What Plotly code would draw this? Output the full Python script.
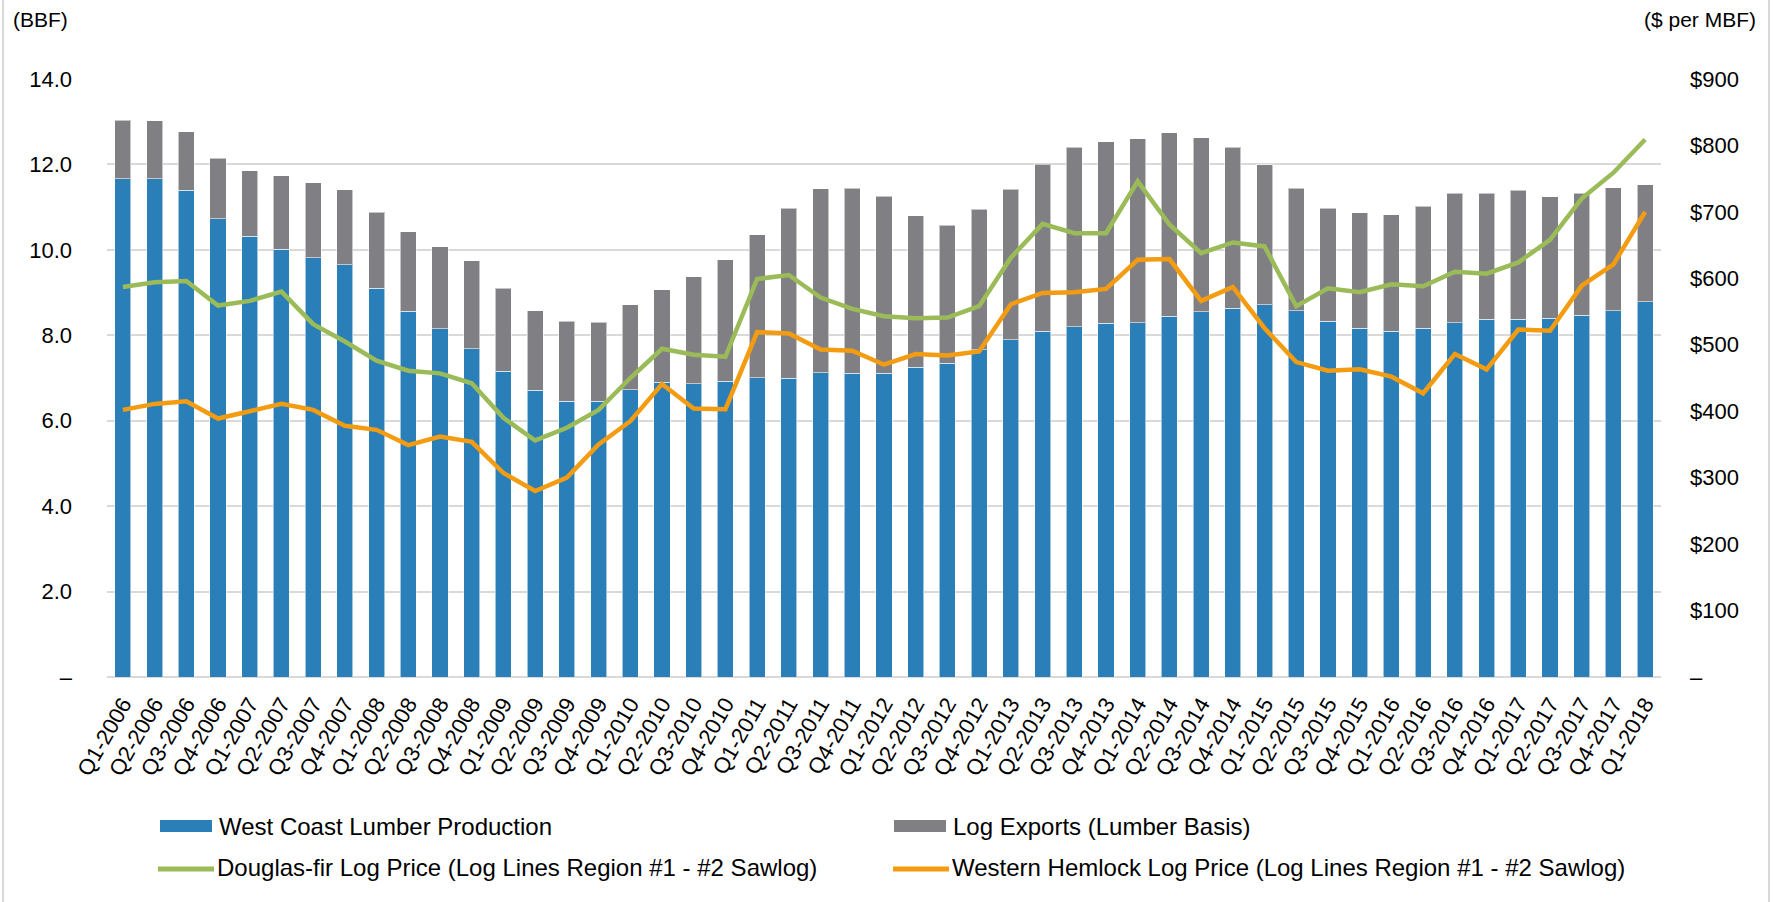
import plotly.graph_objects as go

# Quarterly categories, Q1-2006 through Q1-2018
quarters = [f"Q{q}-{y}" for y in range(2006, 2019) for q in range(1, 5)][:49]

# West Coast lumber production (BBF)
production = [11.67, 11.67, 11.39, 10.73, 10.32, 10.01, 9.82, 9.65, 9.10, 8.56,
              8.15, 7.69, 7.16, 6.71, 6.46, 6.46, 6.73, 6.90, 6.87, 6.92,
              7.01, 6.99, 7.12, 7.11, 7.11, 7.25, 7.34, 7.66, 7.90, 8.09,
              8.20, 8.28, 8.29, 8.44, 8.55, 8.63, 8.71, 8.57, 8.33, 8.17,
              8.09, 8.17, 8.29, 8.37, 8.37, 8.40, 8.47, 8.57, 8.79]

# Log exports, lumber basis (BBF)
exports = [1.36, 1.35, 1.38, 1.41, 1.53, 1.72, 1.75, 1.76, 1.78, 1.86,
           1.92, 2.06, 1.94, 1.86, 1.87, 1.84, 1.98, 2.17, 2.50, 2.85,
           3.34, 3.98, 4.31, 4.33, 4.14, 3.55, 3.24, 3.29, 3.52, 3.91,
           4.20, 4.25, 4.31, 4.30, 4.07, 3.77, 3.28, 2.87, 2.64, 2.70,
           2.73, 2.85, 3.03, 2.95, 3.02, 2.84, 2.85, 2.88, 2.73]

# Log prices ($ per MBF)
douglas_fir = [587, 594, 596, 559, 566, 580, 531, 505, 476, 461,
               457, 442, 390, 356, 375, 402, 450, 494, 485, 482,
               599, 605, 571, 554, 543, 540, 541, 558, 631, 682,
               668, 668, 746, 681, 638, 654, 648, 558, 585, 579,
               591, 588, 610, 607, 624, 658, 720, 759, 809]

hemlock = [402, 411, 415, 389, 400, 411, 402, 378, 372, 349,
           362, 354, 307, 280, 300, 350, 385, 441, 404, 403,
           519, 517, 493, 491, 470, 486, 484, 490, 561, 578,
           579, 584, 628, 629, 566, 587, 525, 474, 461, 463,
           452, 427, 486, 463, 523, 521, 589, 621, 700]

names = ["West Coast Lumber Production",
         "Log Exports (Lumber Basis)",
         "Douglas-fir Log Price (Log Lines Region #1 - #2 Sawlog)",
         "Western Hemlock Log Price (Log Lines Region #1 - #2 Sawlog)"]

left_ticks = [0, 2, 4, 6, 8, 10, 12, 14]
left_text = ["–", "2.0", "4.0", "6.0", "8.0", "10.0", "12.0", "14.0"]
right_ticks = [0, 100, 200, 300, 400, 500, 600, 700, 800, 900]
right_text = ["–", "$100", "$200", "$300", "$400", "$500", "$600", "$700", "$800", "$900"]

BLUE = "#2A7FB8"
GRAY = "#808084"
GREEN = "#9BBB59"
ORANGE = "#F39C12"
GRID = "#D9D9D9"
FONT = "Liberation Sans, Arial, sans-serif"

W, H = 1775, 902
ML, MR, MT, MB = 107, 114, 79, 225
PW, PH = W - ML - MR, H - MT - MB


def px(x):
    return (x - ML) / PW


def py(y):
    return 1 - (y - MT) / PH


fig = go.Figure()
bar_line = dict(color="rgba(255,255,255,0.55)", width=1)
fig.add_trace(go.Bar(x=quarters, y=production, name=names[0], marker=dict(color=BLUE, line=bar_line),
                     showlegend=False))
fig.add_trace(go.Bar(x=quarters, y=exports, name=names[1], marker=dict(color=GRAY, line=bar_line),
                     showlegend=False))
fig.add_trace(go.Scatter(x=quarters, y=douglas_fir, name=names[2], yaxis="y2", mode="lines",
                         line=dict(color=GREEN, width=4.5), showlegend=False))
fig.add_trace(go.Scatter(x=quarters, y=hemlock, name=names[3], yaxis="y2", mode="lines",
                         line=dict(color=ORANGE, width=4.5), showlegend=False))

# Legend drawn as swatches + labels in two columns
shapes = []
annotations = []
legend_rows = [(826, [(0, "bar", BLUE, 160), (1, "bar", GRAY, 894)]),
               (868, [(2, "line", GREEN, 158), (3, "line", ORANGE, 893)])]
for ycen, items in legend_rows:
    for idx, kind, color, x0 in items:
        if kind == "bar":
            shapes.append(dict(type="rect", xref="paper", yref="paper",
                               x0=px(x0), x1=px(x0 + 52), y0=py(ycen + 6), y1=py(ycen - 6),
                               fillcolor=color, line=dict(width=0)))
        else:
            shapes.append(dict(type="line", xref="paper", yref="paper",
                               x0=px(x0), x1=px(x0 + 56), y0=py(ycen + 1), y1=py(ycen + 1),
                               line=dict(color=color, width=5)))
        annotations.append(dict(text=names[idx], xref="paper", yref="paper",
                                x=px(x0 + 57), y=py(ycen), xanchor="left", yanchor="middle",
                                showarrow=False, font=dict(size=24, color="#000", family=FONT)))

annotations.append(dict(text="(BBF)", xref="paper", yref="paper", x=px(11), y=py(19),
                        xanchor="left", yanchor="middle", showarrow=False,
                        font=dict(size=21, color="#000", family=FONT)))
annotations.append(dict(text="($ per MBF)", xref="paper", yref="paper", x=px(1758), y=py(19),
                        xanchor="right", yanchor="middle", showarrow=False,
                        font=dict(size=21, color="#000", family=FONT)))

# Outer frame (left and right edges)
for xe in (3, 1769):
    shapes.append(dict(type="line", xref="paper", yref="paper", x0=px(xe), x1=px(xe),
                       y0=py(0), y1=py(H), line=dict(color=GRID, width=2), layer="below"))

fig.update_layout(
    width=W, height=H,
    margin=dict(l=ML, r=MR, t=MT, b=MB, autoexpand=False),
    paper_bgcolor="white", plot_bgcolor="white",
    barmode="stack", bargap=0.495,
    font=dict(family=FONT, size=21, color="#000"),
    shapes=shapes, annotations=annotations,
    xaxis=dict(type="category", range=[-0.5, len(quarters) - 0.5], tickangle=-60,
               showgrid=False, showline=False, zeroline=False, ticks="",
               ticklabelstandoff=9,
               tickfont=dict(size=22, color="#000", family=FONT)),
    yaxis=dict(range=[0, 14], tickvals=left_ticks, ticktext=left_text,
               showgrid=True, gridcolor=GRID, gridwidth=1.5,
               zeroline=True, zerolinecolor=GRID, zerolinewidth=2,
               showline=False, ticks="", ticklabelstandoff=34,
               tickfont=dict(size=22, color="#000", family=FONT)),
    yaxis2=dict(range=[0, 900], tickvals=right_ticks, ticktext=right_text,
                overlaying="y", side="right", showgrid=False, zeroline=False,
                showline=False, ticks="", ticklabelstandoff=28,
                tickfont=dict(size=22, color="#000", family=FONT)),
)

fig.write_html("out.html")
